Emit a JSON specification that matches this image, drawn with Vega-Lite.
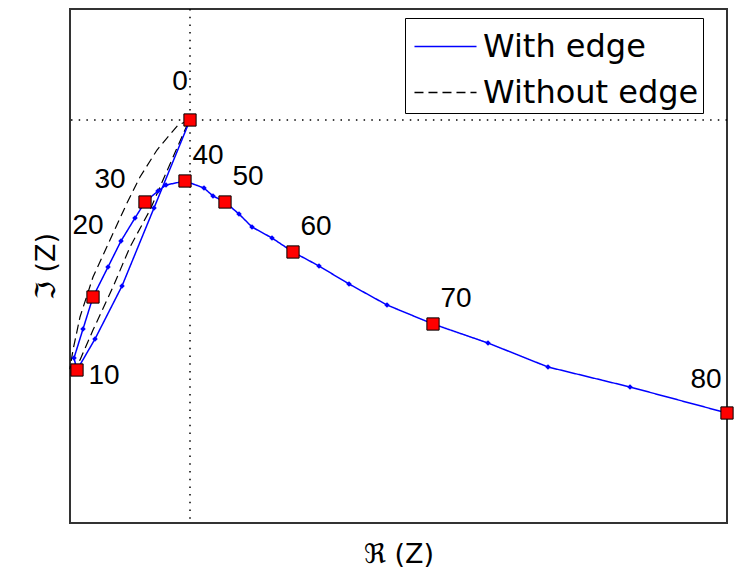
{
  "$schema": "https://vega.github.io/schema/vega-lite/v6.json",
  "width": 657,
  "height": 514,
  "autosize": {"type": "none"},
  "padding": {"left": 70, "top": 9, "right": 9, "bottom": 50},
  "background": "white",
  "config": {
    "view": {"stroke": "#333333", "strokeWidth": 2},
    "axis": {"grid": false, "labels": false, "ticks": false, "domain": false, "titleFont": "DejaVu Sans", "titleFontSize": 27, "titleFontWeight": "normal", "titleColor": "black"}
  },
  "datasets": {
    "withEdge": [
      {"i": 0, "re": 0, "im": 0},
      {"i": 1, "re": -36, "im": -88},
      {"i": 2, "re": -68, "im": -166},
      {"i": 3, "re": -95, "im": -219},
      {"i": 4, "re": -113, "im": -250},
      {"i": 5, "re": -116, "im": -238},
      {"i": 6, "re": -107, "im": -209},
      {"i": 7, "re": -97, "im": -177},
      {"i": 8, "re": -82, "im": -147},
      {"i": 9, "re": -69, "im": -121},
      {"i": 10, "re": -55, "im": -98},
      {"i": 11, "re": -45, "im": -82},
      {"i": 12, "re": -32, "im": -71},
      {"i": 13, "re": -24, "im": -65},
      {"i": 14, "re": -5, "im": -61},
      {"i": 15, "re": 14, "im": -68},
      {"i": 16, "re": 23, "im": -76},
      {"i": 17, "re": 35, "im": -82},
      {"i": 18, "re": 49, "im": -94},
      {"i": 19, "re": 62, "im": -107},
      {"i": 20, "re": 82, "im": -118},
      {"i": 21, "re": 103, "im": -132},
      {"i": 22, "re": 129, "im": -146},
      {"i": 23, "re": 159, "im": -164},
      {"i": 24, "re": 197, "im": -185},
      {"i": 25, "re": 243, "im": -204},
      {"i": 26, "re": 298, "im": -223},
      {"i": 27, "re": 358, "im": -247},
      {"i": 28, "re": 440, "im": -267},
      {"i": 29, "re": 537, "im": -293}
    ],
    "withoutEdge": [
      {"i": 0, "re": 0, "im": 0},
      {"i": 1, "re": -12, "im": -5},
      {"i": 2, "re": -33, "im": -30},
      {"i": 3, "re": -50, "im": -57},
      {"i": 4, "re": -63, "im": -83},
      {"i": 5, "re": -80, "im": -120},
      {"i": 6, "re": -97, "im": -157},
      {"i": 7, "re": -110, "im": -197},
      {"i": 8, "re": -117, "im": -230},
      {"i": 9, "re": -120, "im": -248},
      {"i": 10, "re": -110, "im": -240},
      {"i": 11, "re": -97, "im": -210},
      {"i": 12, "re": -77, "im": -167},
      {"i": 13, "re": -60, "im": -127},
      {"i": 14, "re": -40, "im": -90},
      {"i": 15, "re": -27, "im": -60},
      {"i": 16, "re": -2, "im": -3},
      {"i": 17, "re": 0, "im": 0}
    ],
    "markers": [
      {"label": "0", "re": 0, "im": 0},
      {"label": "10", "re": -113, "im": -250},
      {"label": "20", "re": -97, "im": -177},
      {"label": "30", "re": -45, "im": -82},
      {"label": "40", "re": -5, "im": -61},
      {"label": "50", "re": 35, "im": -82},
      {"label": "60", "re": 103, "im": -132},
      {"label": "70", "re": 243, "im": -204},
      {"label": "80", "re": 537, "im": -293}
    ]
  },
  "encoding": {
    "x": {"field": "re", "type": "quantitative", "scale": {"domain": [-120, 537], "nice": false, "zero": false}, "axis": {"title": "ℜ (Z)", "titlePadding": 18}},
    "y": {"field": "im", "type": "quantitative", "scale": {"domain": [-403, 111], "nice": false, "zero": false}, "axis": {"title": "ℑ (Z)", "titlePadding": 10}}
  },
  "layer": [
    {
      "data": {"values": [{"re": 0}]},
      "mark": {"type": "rule", "color": "black", "strokeWidth": 1.5, "strokeDash": [1.5, 6.2]},
      "encoding": {"x": {"field": "re", "type": "quantitative"}, "y": null}
    },
    {
      "data": {"values": [{"im": 0}]},
      "mark": {"type": "rule", "color": "black", "strokeWidth": 1.5, "strokeDash": [1.5, 6.2]},
      "encoding": {"y": {"field": "im", "type": "quantitative"}, "x": null}
    },
    {
      "data": {"name": "withoutEdge"},
      "transform": [{"calculate": "'Without edge'", "as": "series"}],
      "mark": {"type": "line", "strokeWidth": 1.2},
      "encoding": {
        "order": {"field": "i", "type": "quantitative"},
        "color": {"field": "series", "type": "nominal", "scale": {"domain": ["With edge", "Without edge"], "range": ["#0000ff", "#000000"]}, "legend": {"title": null, "orient": "none", "legendX": 335, "legendY": 9, "symbolType": "M-1.32,0H1.32", "symbolSize": 2209, "symbolStrokeWidth": 1.5, "symbolOffset": 12, "labelFont": "DejaVu Sans", "labelFontSize": 32, "labelColor": "black", "labelOffset": 13, "labelLimit": 400, "rowPadding": 5, "padding": 4, "strokeColor": "black", "fillColor": "white", "cornerRadius": 0}},
        "strokeDash": {"field": "series", "type": "nominal", "scale": {"domain": ["With edge", "Without edge"], "range": [[1, 0], [9, 5]]}, "legend": null}
      }
    },
    {
      "data": {"name": "withEdge"},
      "transform": [{"calculate": "'With edge'", "as": "series"}],
      "mark": {"type": "line", "strokeWidth": 1.5},
      "encoding": {
        "order": {"field": "i", "type": "quantitative"},
        "color": {"field": "series", "type": "nominal"},
        "strokeDash": {"field": "series", "type": "nominal"}
      }
    },
    {
      "data": {"name": "withEdge"},
      "mark": {"type": "point", "shape": "diamond", "filled": true, "color": "#0000ff", "size": 30, "opacity": 1}
    },
    {
      "data": {"name": "markers"},
      "mark": {"type": "square", "fill": "#ff0000", "stroke": "black", "strokeWidth": 1, "size": 150, "opacity": 1}
    },
    {
      "data": {"name": "markers"},
      "transform": [{"filter": "indexof(['40','50','60','70'], datum.label) >= 0"}],
      "mark": {"type": "text", "font": "Liberation Sans", "fontSize": 28, "dx": 23, "dy": -25, "color": "black"},
      "encoding": {"text": {"field": "label"}}
    },
    {
      "data": {"name": "markers"},
      "transform": [{"filter": "datum.label == '0'"}],
      "mark": {"type": "text", "font": "Liberation Sans", "fontSize": 28, "dx": -10, "dy": -38, "color": "black"},
      "encoding": {"text": {"field": "label"}}
    },
    {
      "data": {"name": "markers"},
      "transform": [{"filter": "datum.label == '10'"}],
      "mark": {"type": "text", "font": "Liberation Sans", "fontSize": 28, "dx": 27, "dy": 6, "color": "black"},
      "encoding": {"text": {"field": "label"}}
    },
    {
      "data": {"name": "markers"},
      "transform": [{"filter": "datum.label == '20'"}],
      "mark": {"type": "text", "font": "Liberation Sans", "fontSize": 28, "dx": -5, "dy": -71, "color": "black"},
      "encoding": {"text": {"field": "label"}}
    },
    {
      "data": {"name": "markers"},
      "transform": [{"filter": "datum.label == '30'"}],
      "mark": {"type": "text", "font": "Liberation Sans", "fontSize": 28, "dx": -35, "dy": -22, "color": "black"},
      "encoding": {"text": {"field": "label"}}
    },
    {
      "data": {"name": "markers"},
      "transform": [{"filter": "datum.label == '80'"}],
      "mark": {"type": "text", "font": "Liberation Sans", "fontSize": 28, "dx": -21, "dy": -33, "color": "black"},
      "encoding": {"text": {"field": "label"}}
    }
  ]
}
